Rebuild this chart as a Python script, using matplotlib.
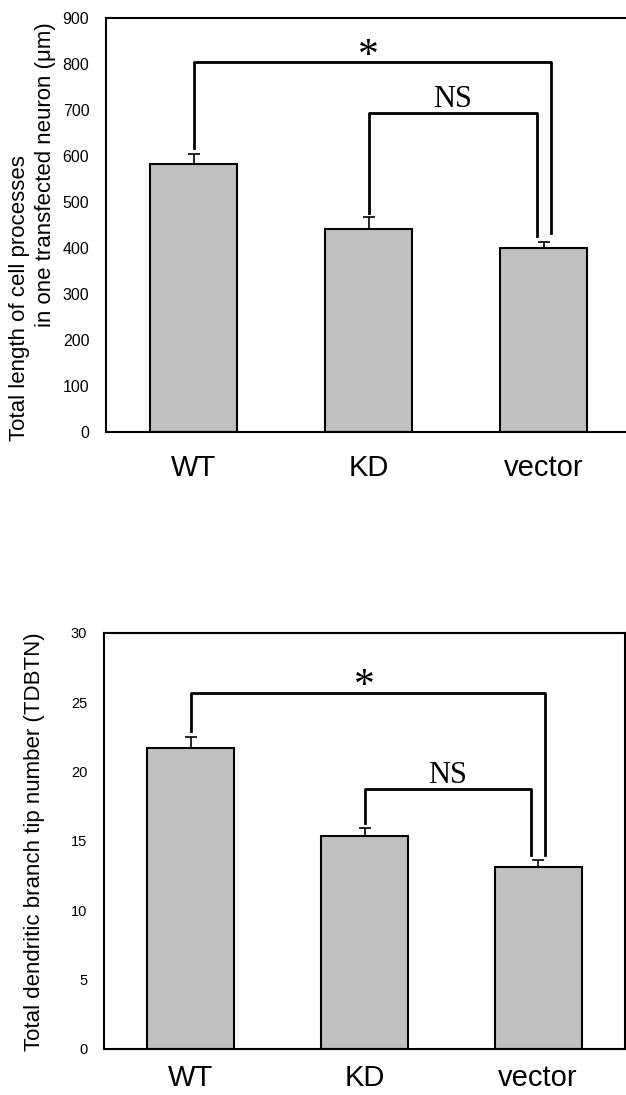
import numpy as np
import matplotlib.pyplot as plt

plt.rcParams['font.family'] = ['Liberation Sans', 'DejaVu Sans']

groups = ['WT', 'KD', 'vector']

length_mean = [582, 442, 399]
length_err = [22, 25, 14]

tip_mean = [21.7, 15.35, 13.1]
tip_err = [0.8, 0.6, 0.5]

# bracket heights (data units): star bar, NS bar, leg bottoms
length_star = 805
length_ns = 694
length_legs = [617, 476, 432, 426]
tip_star = 25.65
tip_ns = 18.75
tip_legs = [22.9, 16.3, 14.0, 14.0]

W, H = 626, 1095
fig = plt.figure(figsize=(W / 100, H / 100), dpi=100)


def panel(ax, means, errs, ymax, ystep, tick_size, xpad, star_y, ns_y, legs, star_txt, ns_txt):
    x = np.arange(len(groups))
    ax.bar(x, means, width=0.5, color='#c0c0c0', edgecolor='black', linewidth=1.5, zorder=2)
    ax.errorbar(x, means, yerr=[np.zeros(3), errs], fmt='none', ecolor='black',
                elinewidth=1.2, capsize=4, capthick=1.2, zorder=1)
    off = 0.04
    # WT vs vector
    ax.plot([0, 0, 2 + off, 2 + off], [legs[0], star_y, star_y, legs[2]], color='black', lw=2)
    # KD vs vector
    ax.plot([1, 1, 2 - off, 2 - off], [legs[1], ns_y, ns_y, legs[3]], color='black', lw=2)
    ax.text(1.0, star_txt, '*', ha='center', va='center', fontsize=30, family='Liberation Serif')
    ax.text(1.48, ns_txt, 'NS', ha='center', va='center', fontsize=22, family='Liberation Serif')
    ax.set_xlim(-0.5, 2.5)
    ax.set_ylim(0, ymax)
    ax.set_yticks(np.arange(0, ymax + 1e-9, ystep))
    ax.set_xticks(x)
    ax.set_xticklabels(groups, fontsize=21)
    ax.tick_params(axis='y', length=0, pad=12, labelsize=tick_size)
    ax.tick_params(axis='x', length=0, pad=xpad)
    for s in ax.spines.values():
        s.set_linewidth(1.5)


ax1 = fig.add_axes([106 / W, (H - 432) / H, 525 / W, 414 / H])
panel(ax1, length_mean, length_err, 900, 100, 11.5, 16,
      length_star, length_ns, length_legs, 816, 722)
fig.text(20 / W, 1 - 298 / H, 'Total length of cell processes', rotation=90,
         ha='center', va='center', fontsize=16)
fig.text(46 / W, 1 - 175 / H, 'in one transfected neuron (\u03bcm)', rotation=90,
         ha='center', va='center', fontsize=16)

ax2 = fig.add_axes([104 / W, (H - 1049) / H, 521 / W, 416 / H])
panel(ax2, tip_mean, tip_err, 30, 5, 10.5, 11,
      tip_star, tip_ns, tip_legs, 26.1, 19.7)
fig.text(35 / W, 1 - 842 / H, 'Total dendritic branch tip number (TDBTN)', rotation=90,
         ha='center', va='center', fontsize=16)

fig.savefig('out.png', dpi=100)
